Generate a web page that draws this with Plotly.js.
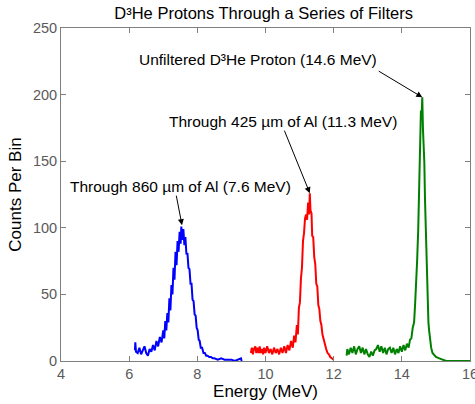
<!DOCTYPE html>
<html><head><meta charset="utf-8">
<script src="https://cdn.plot.ly/plotly-3.0.1.min.js"></script>
<style>html,body{margin:0;padding:0;background:#fff}#c{width:475px;height:404px}</style>
</head><body><div id="c"></div>
<script>
// 860 um Al filter (blue)
const blueE = [6.17,6.18,6.20,6.25,6.30,6.35,6.40,6.45,6.50,6.55,6.60,6.65,6.70,6.75,6.80,6.85,6.90,6.95,7.00,7.03,7.06,7.09,7.12,7.15,7.18,7.21,7.24,7.27,7.30,7.33,7.36,7.39,7.42,7.45,7.48,7.51,7.53,7.56,7.59,7.62,7.65,7.68,7.71,7.74,7.77,7.80,7.83,7.86,7.89,7.92,7.95,7.98,8.01,8.04,8.07,8.10,8.14,8.18,8.22,8.26,8.30,8.35,8.40,8.45,8.50,8.60,8.70,8.80,8.90,9.00,9.10,9.20,9.28,9.30];
const blueC = [8,14,7,6,10,5,8,11,6,4,9,7,12,8,15,11,18,14,23,17,30,23,36,29,47,38,57,50,70,61,82,72,90,82,97,88,101,91,99,87,93,80,81,70,69,58,58,46,45,35,34,25,23,16,15,10,10,6,6,4,4,3,3,2,2,1,2,1,1,1,0,1,2,0];
// 425 um Al filter (red)
const redE = [9.57,9.60,9.63,9.66,9.70,9.73,9.76,9.80,9.83,9.86,9.90,9.93,9.96,10.00,10.05,10.10,10.15,10.20,10.25,10.30,10.35,10.40,10.45,10.50,10.55,10.60,10.65,10.70,10.75,10.80,10.84,10.88,10.92,10.95,10.98,11.01,11.04,11.07,11.10,11.13,11.16,11.19,11.22,11.25,11.28,11.30,11.32,11.35,11.37,11.40,11.43,11.46,11.49,11.52,11.55,11.58,11.61,11.64,11.67,11.70,11.74,11.78,11.82,11.86,11.90,11.95,12.00];
const redC = [6,10,5,9,11,6,10,6,11,6,9,5,10,6,11,6,9,5,10,6,9,5,10,6,11,6,12,8,15,10,19,14,27,20,40,44,62,70,90,96,107,110,106,119,110,126,113,111,94,93,78,73,58,56,42,39,30,27,20,17,11,9,6,5,3,2,1];
// Unfiltered (green)
const greenE = [12.38,12.40,12.45,12.50,12.55,12.60,12.65,12.70,12.75,12.80,12.85,12.90,12.95,13.00,13.05,13.10,13.15,13.20,13.25,13.30,13.35,13.40,13.45,13.50,13.55,13.60,13.65,13.70,13.75,13.80,13.85,13.90,13.95,14.00,14.05,14.10,14.15,14.20,14.24,14.28,14.32,14.36,14.39,14.42,14.45,14.48,14.50,14.52,14.54,14.56,14.58,14.60,14.62,14.64,14.66,14.68,14.70,14.72,14.74,14.76,14.78,14.80,14.83,14.86,14.90,14.95,15.00,15.10,15.20,15.30,15.50,16.00];
const greenC = [4,9,5,10,6,11,5,9,11,6,10,5,9,5,3,7,4,8,9,12,7,11,6,10,5,9,10,6,10,5,9,6,11,7,12,8,13,10,16,17,25,29,43,57,76,98,126,148,173,188,183,198,174,161,149,121,99,76,54,41,29,23,14,10,6,4,3,2,1,0,0,0];

const titleText = 'D³He Protons Through a Series of Filters';
const xTitle = 'Energy (MeV)';
const yTitle = 'Counts Per Bin';
const labels = ['Unfiltered D³He Proton (14.6 MeV)','Through 425 µm of Al (11.3 MeV)','Through 860 µm of Al (7.6 MeV)'];
const peaks = [[14.6,198],[11.3,126],[7.55,102]];
const labelPos = [[9.78,226],[10.5,180],[7.5,131]];

const FONT = 'Arial, Liberation Sans, sans-serif';
const ln = (x,y,c)=>({x:x,y:y,type:'scatter',mode:'lines',line:{color:c,width:2},hoverinfo:'skip'});
const data = [ln(blueE,blueC,'rgb(0,0,255)'), ln(redE,redC,'rgb(255,0,0)'), ln(greenE,greenC,'rgb(0,128,0)')];

const axis = {showline:true,mirror:'ticks',linecolor:'#7f7f7f',linewidth:1,ticks:'inside',ticklen:5,tickcolor:'#7f7f7f',
  showgrid:false,zeroline:false,ticklabeloverflow:'allow',tickfont:{family:FONT,size:14.5,color:'#5a5a5a'}};
const ann = [];
const offs = [[-45,-27],[-26,-64],[-6,-31]];
for (let i=0;i<3;i++){
  ann.push({x:labelPos[i][0],y:labelPos[i][1],xref:'x',yref:'y',text:labels[i],showarrow:false,
    font:{family:FONT,size:15.5,color:'#000'}});
  ann.push({x:peaks[i][0],y:peaks[i][1],xref:'x',yref:'y',text:'',showarrow:true,arrowhead:2,arrowsize:1.2,arrowwidth:1,
    arrowcolor:'#000',ax:offs[i][0],ay:offs[i][1]});
}
const layout = {
  width:475,height:404,margin:{l:61,r:5,t:28,b:43},paper_bgcolor:'#fff',plot_bgcolor:'#fff',showlegend:false,
  title:{text:titleText,font:{family:FONT,size:16.5,color:'#000'},x:0.555,xanchor:'center',y:0.968,yanchor:'middle'},
  xaxis:Object.assign({},axis,{range:[4,16],tickvals:[4,6,8,10,12,14,16],
    title:{text:xTitle,font:{family:FONT,size:17,color:'#000'},standoff:2}}),
  yaxis:Object.assign({},axis,{range:[0,250],tickvals:[0,50,100,150,200,250],
    title:{text:yTitle,font:{family:FONT,size:17,color:'#000'},standoff:6}}),
  annotations:ann
};
Plotly.newPlot('c',data,layout,{staticPlot:true,displayModeBar:false});
</script></body></html>
